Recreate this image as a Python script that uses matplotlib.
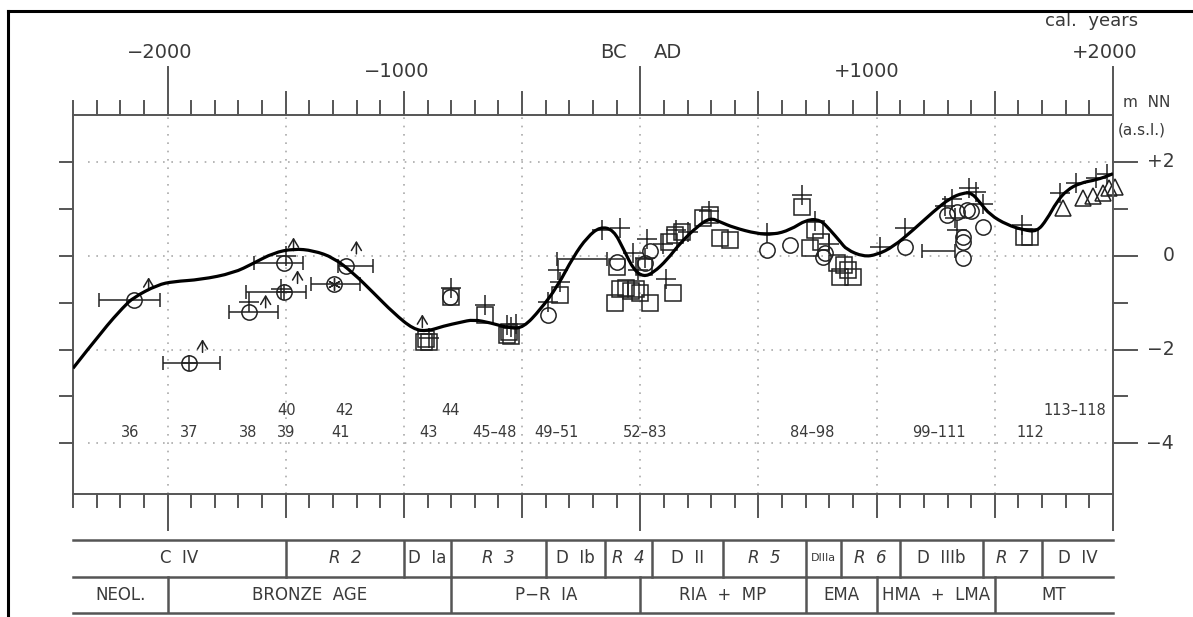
import numpy as np
import matplotlib
matplotlib.use("Agg")
import matplotlib.pyplot as plt
from matplotlib.lines import Line2D
from matplotlib.path import Path
from matplotlib.patches import PathPatch

# smoothed sea-level curve (cal. years, m a.s.l.)
curve_x = [-2400, -2271, -2186, -2144, -2042, -1975, -1860, -1721, -1636, -1552, -1467, -1383,
           -1298, -1214, -1129, -1044, -960, -900, -833, -761, -706, -634, -550, -494, -423,
           -351, -283, -224, -169, -113, -70, -28, 14, 56, 113, 169, 240, 296, 338, 395, 493,
           563, 634, 704, 761, 803, 846, 873, 944, 1001, 1070, 1155, 1240, 1311, 1367, 1402,
           1438, 1480, 1551, 1621, 1678, 1720, 1762, 1805, 1860, 1932, 1987, 2000]
curve_y = [-2.40, -1.57, -1.09, -0.89, -0.62, -0.55, -0.51, -0.37, -0.16, 0.06, 0.15, 0.11,
           -0.04, -0.37, -0.79, -1.22, -1.57, -1.61, -1.50, -1.42, -1.36, -1.43, -1.55, -1.53, -1.15,
           -0.66, -0.02, 0.40, 0.62, 0.55, 0.13, -0.30, -0.45, -0.36, -0.09, 0.27, 0.62, 0.81, 0.72, 0.60, 0.47,
           0.45, 0.55, 0.77, 0.77, 0.55, 0.30, 0.13, -0.02, 0.02, 0.19, 0.55, 0.94, 1.23, 1.34, 1.34,
           1.13, 0.87, 0.66, 0.55, 0.51, 0.77, 1.15, 1.40, 1.55, 1.62, 1.72, 1.75]

# dated samples with horizontal age ranges
eb_x = [-2144, -1911, -1657, -1509, -1509, -1294, -1247, -161, 1298]
eb_y = [-0.94, -2.28, -1.19, -0.77, -0.15, -0.60, -0.21, -0.06, 0.09]
eb_lo = [-2292, -2021, -1742, -1670, -1636, -1395, -1277, -351, 1190]
eb_hi = [-2034, -1776, -1531, -1416, -1429, -1184, -1129, -140, 1330]
cross_circ_x = [-1911, -1509]
cross_circ_y = [-2.28, -0.77]
star_x = [-1294]
star_y = [-0.60]

circ_x = [-803, -389, -97, 42, 20, 537, 634, 774, 782, 1120, 1367, 1367, 1367, 1298, 1340, 1383, 1450, 1400]
circ_y = [-0.89, -1.26, -0.13, 0.09, -0.15, 0.13, 0.23, -0.02, 0.05, 0.19, -0.04, 0.40, 0.30, 0.87, 0.93, 0.98, 0.62, 0.95]

sq_x = [-915, -895, -905, -800, -655, -565, -545, -555, -338, -106, -85, -60, -40, -20, 0, 42, 140, 15,
        -100, 120, 145, 175, 266, 296, 338, 381, 685, 719, 740, 765, 833, 846, 901, 880, 860, 1625, 1650]
sq_y = [-1.83, -1.83, -1.78, -0.87, -1.26, -1.70, -1.72, -1.63, -0.83, -1.00, -0.72, -0.68, -0.75, -0.70,
        -0.80, -1.00, -0.79, -0.25, -0.25, 0.30, 0.45, 0.50, 0.81, 0.87, 0.38, 0.34, 1.04, 0.17, 0.55, 0.30,
        -0.15, -0.45, -0.45, -0.30, -0.20, 0.40, 0.40]

plus_x = [-1657, -1500, -1520, -895, -800, -655, -565, -545, -525, -389, -338, -350, -161, -85, -30, -10,
          30, 20, 95, 110, 150, 200, 290, 537, 685, 740, 800, 1015, 1120, 1290, 1320, 1390, 1420, 1450,
          1340, 1330, 1615, 1776, 1845, 1930, 1975]
plus_y = [-0.98, 0.00, -0.72, -1.75, -0.68, -1.04, -1.47, -1.52, -1.45, -0.99, -0.57, -0.30, 0.55, 0.60,
          0.05, -0.30, 0.35, -0.05, 0.25, -0.50, 0.55, 0.50, 0.95, 0.49, 1.30, 0.75, 0.25, 0.19, 0.60, 1.05,
          1.20, 1.45, 1.35, 1.10, 0.55, 0.80, 0.66, 1.34, 1.55, 1.65, 1.75]

tri_x = [1789, 1873, 1915, 1958, 1985, 2010]
tri_y = [1.02, 1.23, 1.28, 1.34, 1.45, 1.47]

# "minimum" arrows (x, base, tip)
arr_x = [-2080, -1852, -1585, -1450, -1467, -1201, -922]
arr_base = [-0.74, -2.06, -1.11, -0.59, 0.11, 0.04, -1.53]
arr_tip = [-0.46, -1.78, -0.83, -0.31, 0.39, 0.32, -1.25]

# site numbers
site_labels = ["36", "37", "38", "39", "40", "41", "42", "43", "44", "45\u201348", "49\u201351",
               "52\u201383", "84\u201398", "99\u2013111", "112", "113\u2013118"]
site_x = [-2157, -1907, -1658, -1497, -1497, -1268, -1252, -896, -803, -617, -355, 21, 727, 1264, 1649, 1839]
site_y = [-3.77, -3.77, -3.77, -3.77, -3.30, -3.77, -3.30, -3.77, -3.30, -3.77, -3.77, -3.77, -3.77,
          -3.77, -3.77, -3.30]

# phase table
phase_edges = [-2400, -1500, -1000, -800, -400, -150, 50, 350, 700, 850, 1100, 1450, 1700, 2000]
phase_names = ["C  IV", "R  2", "D  Ia", "R  3", "D  Ib", "R  4", "D  II", "R  5", "DIIIa", "R  6",
               "D  IIIb", "R  7", "D  IV"]
period_edges = [-2400, -2000, -800, 0, 700, 1000, 1500, 2000]
period_names = ["NEOL.", "BRONZE  AGE", "P\u2212R  IA", "RIA  +  MP", "EMA", "HMA  +  LMA", "MT"]

AX = "#555555"
TXT = "#3a3a3a"
MK = "#222222"

fig = plt.figure(figsize=(11.93, 6.17), dpi=100)
W, H = 1193.0, 617.0
ax = fig.add_axes([73 / W, (617 - 494) / H, 1040 / W, 379 / H])
ax.set_xlim(-2400, 2000)
ax.set_ylim(-5.08, 3.0)
ax.set_xticks([])
ax.set_yticks([])
for s in ax.spines.values():
    s.set_color(AX)
    s.set_linewidth(1.4)

# grid
for g in range(-2000, 2000, 500):
    ax.plot([g, g], [-5.08, 3.0], color="#aaaaaa", lw=1.2, ls=(0, (1, 4)))
for g in [-4, -2, 0, 2]:
    ax.plot([-2335, 2000], [g, g], color="#aaaaaa", lw=1.2, ls=(0, (1, 4)))

# ticks
tx = ax.get_xaxis_transform()
ty = ax.get_yaxis_transform()
for yr in range(-2400, 2001, 100):
    if yr in (-2000, 0, 2000):
        lt, lb = 48, 36
    elif yr % 500 == 0:
        lt, lb = 23, 23
    else:
        lt, lb = 14, 13
    ax.plot([yr, yr], [1, 1 + lt / 379], transform=tx, color=AX, lw=1.4, clip_on=False)
    ax.plot([yr, yr], [0, -lb / 379], transform=tx, color=AX, lw=1.4, clip_on=False)
for v in range(-4, 3):
    lr = 24 if v % 2 == 0 else 14
    ax.plot([1, 1 + lr / 1040], [v, v], transform=ty, color=AX, lw=1.4, clip_on=False)
    ax.plot([0, -13 / 1040], [v, v], transform=ty, color=AX, lw=1.4, clip_on=False)

# top labels
for lab, x, y in [("\u22122000", -2035, 1.1636), ("\u22121000", -1032, 1.1135), ("BC", -114, 1.1636),
                  ("AD", 118, 1.1636), ("+1000", 960, 1.1135), ("+2000", 1963, 1.1636)]:
    ax.text(x, y, lab, transform=tx, ha="center", va="center", fontsize=14, color=TXT)
ax.text(2107, 1.248, "cal.  years", transform=tx, ha="right", va="center", fontsize=13, color=TXT)
ax.text(2043, 1.034, "m  NN", transform=tx, ha="left", va="center", fontsize=11, color=TXT)
ax.text(2022, 0.960, "(a.s.l.)", transform=tx, ha="left", va="center", fontsize=11, color=TXT)
for lab, v in [("+2", 2), ("0", 0), ("\u22122", -2), ("\u22124", -4)]:
    ax.text(2259, v, lab, ha="right", va="center", fontsize=13.5, color=TXT, clip_on=False)

# site numbers
for lab, x, y in zip(site_labels, site_x, site_y):
    ax.text(x, y, lab, ha="center", va="center", fontsize=10.5, color=TXT)

# markers
ax.errorbar(eb_x, eb_y, xerr=[np.subtract(eb_x, eb_lo), np.subtract(eb_hi, eb_x)], fmt="none",
            ecolor=MK, elinewidth=1.1, capsize=5, capthick=1.1)
ax.plot(eb_x[:7], eb_y[:7], "o", ms=11, mfc="none", mec=MK, mew=1.1)
ax.plot(cross_circ_x, cross_circ_y, "+", ms=11, mec=MK, mew=1.1)
ax.plot(star_x, star_y, marker=(6, 2, 0), ms=9, mec=MK, mew=1.0, ls="none")
ax.plot(sq_x, sq_y, "s", ms=12, mfc="none", mec=MK, mew=1.1)
ax.plot(circ_x, circ_y, "o", ms=11, mfc="none", mec=MK, mew=1.1)
ax.plot(plus_x, plus_y, "+", ms=14, mec=MK, mew=1.1)
ax.plot(tri_x, tri_y, "^", ms=12, mfc="none", mec=MK, mew=1.1, clip_on=False)
for x, b, t in zip(arr_x, arr_base, arr_tip):
    ax.annotate("", xy=(x, t), xytext=(x, b),
                arrowprops=dict(arrowstyle="->,head_length=0.5,head_width=0.3", lw=1.1, color=MK,
                                mutation_scale=12, shrinkA=0, shrinkB=0))

# curve: quadratic bezier through midpoints of the read points (smooth drawing)
verts = [(curve_x[0], curve_y[0])]
codes = [Path.MOVETO]
for i in range(1, len(curve_x) - 1):
    mx = (curve_x[i] + curve_x[i + 1]) / 2
    my = (curve_y[i] + curve_y[i + 1]) / 2
    verts += [(curve_x[i], curve_y[i]), (mx, my)]
    codes += [Path.CURVE3, Path.CURVE3]
verts.append((curve_x[-1], curve_y[-1]))
codes.append(Path.LINETO)
ax.add_patch(PathPatch(Path(verts, codes), fill=False, edgecolor="black", lw=2.3, zorder=5))

# table of phases
tb = fig.add_axes([73 / W, (617 - 613) / H, 1040 / W, 73 / H])
tb.set_xlim(-2400, 2000)
tb.set_ylim(0, 2)
tb.axis("off")
for yy in [0, 1, 2]:
    tb.plot([-2400, 2000], [yy, yy], color=AX, lw=1.8, clip_on=False)
for e in phase_edges[1:-1]:
    tb.plot([e, e], [1, 2], color=AX, lw=1.8)
for e in period_edges[1:-1]:
    tb.plot([e, e], [0, 1], color=AX, lw=1.8)
for i, lab in enumerate(phase_names):
    c = (phase_edges[i] + phase_edges[i + 1]) / 2
    fs = 8 if lab == "DIIIa" else 12
    st = "italic" if lab.startswith("R") else "normal"
    tb.text(c, 1.5, lab, ha="center", va="center", fontsize=fs, style=st, color=TXT)
for i, lab in enumerate(period_names):
    c = (period_edges[i] + period_edges[i + 1]) / 2
    tb.text(c, 0.5, lab, ha="center", va="center", fontsize=12, color=TXT)

# frame border of the screenshot
fig.add_artist(Line2D([8 / W, 1.0], [1 - 11 / H, 1 - 11 / H], color="black", lw=2.2))
fig.add_artist(Line2D([8 / W, 8 / W], [0, 1 - 11 / H], color="black", lw=2.2))

fig.savefig("out.png", dpi=100)
